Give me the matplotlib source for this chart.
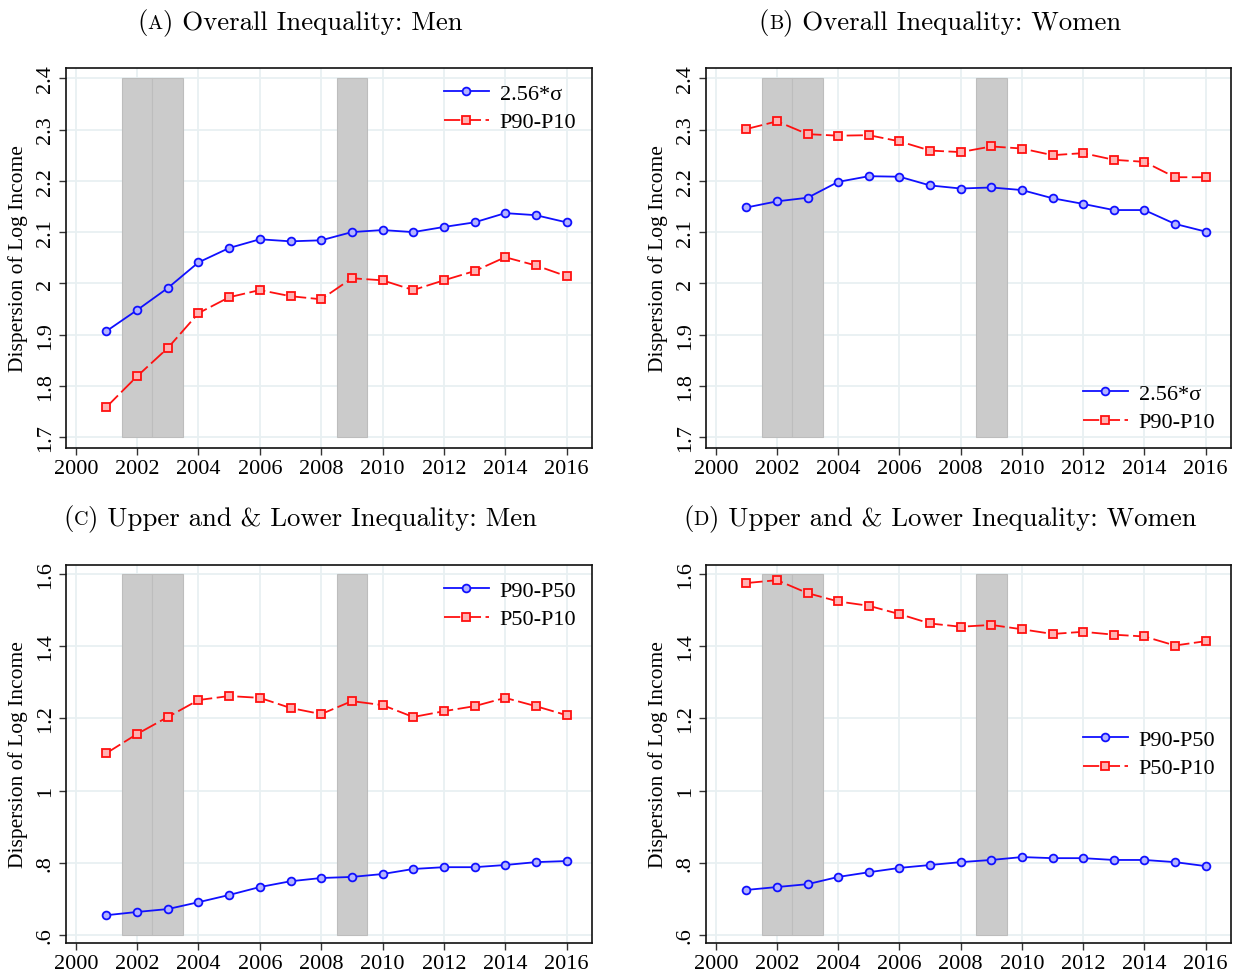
import matplotlib
matplotlib.use("Agg")
import matplotlib.pyplot as plt
import numpy as np

plt.rcParams['font.family'] = ['Liberation Serif', 'DejaVu Serif']

years = np.arange(2001, 2017)
recession_years = [2002, 2003, 2009]

# panel A: overall inequality, men
men_sd = [1.907, 1.948, 1.991, 2.041, 2.069, 2.086, 2.082, 2.084,
          2.100, 2.104, 2.100, 2.110, 2.119, 2.137, 2.133, 2.119]
men_9010 = [1.759, 1.819, 1.874, 1.942, 1.973, 1.987, 1.975, 1.969,
            2.010, 2.006, 1.987, 2.006, 2.024, 2.051, 2.035, 2.014]

# panel B: overall inequality, women
women_sd = [2.148, 2.160, 2.167, 2.198, 2.209, 2.208, 2.191, 2.185,
            2.187, 2.182, 2.166, 2.155, 2.143, 2.143, 2.116, 2.101]
women_9010 = [2.301, 2.316, 2.291, 2.288, 2.289, 2.277, 2.259, 2.256,
              2.267, 2.263, 2.250, 2.254, 2.241, 2.237, 2.207, 2.207]

# panel C: upper / lower, men
men_9050 = [0.655, 0.664, 0.672, 0.691, 0.711, 0.733, 0.749, 0.758,
            0.761, 0.769, 0.783, 0.788, 0.788, 0.794, 0.802, 0.805]
men_5010 = [1.104, 1.157, 1.204, 1.251, 1.262, 1.257, 1.229, 1.212,
            1.248, 1.237, 1.204, 1.220, 1.234, 1.257, 1.234, 1.209]

# panel D: upper / lower, women
women_9050 = [0.725, 0.733, 0.741, 0.761, 0.774, 0.786, 0.794, 0.802,
              0.808, 0.816, 0.813, 0.813, 0.808, 0.808, 0.802, 0.791]
women_5010 = [1.575, 1.583, 1.547, 1.524, 1.512, 1.489, 1.463, 1.454,
              1.459, 1.447, 1.434, 1.440, 1.432, 1.427, 1.402, 1.414]

xticks = np.arange(2000, 2017, 2)
yticks_overall = [1.7, 1.8, 1.9, 2.0, 2.1, 2.2, 2.3, 2.4]
ylabels_overall = ["1.7", "1.8", "1.9", "2", "2.1", "2.2", "2.3", "2.4"]
yticks_ul = [0.6, 0.8, 1.0, 1.2, 1.4, 1.6]
ylabels_ul = [".6", ".8", "1", "1.2", "1.4", "1.6"]

# (letter, rest of title) - letter is set in small caps
titles = [("A", "Overall Inequality: Men"), ("B", "Overall Inequality: Women"),
          ("C", "Upper and & Lower Inequality: Men"),
          ("D", "Upper and & Lower Inequality: Women")]

grid_col = "#e8f0f2"

fig = plt.figure(figsize=(12.39, 9.79), dpi=100)

W, H = 1239, 979
boxes = [(66, 69, 592, 449), (706, 69, 1231, 449),
         (66, 566, 592, 944), (706, 566, 1231, 944)]


def make_ax(box):
    x0, y0, x1, y1 = box
    return fig.add_axes([x0 / W, 1 - y1 / H, (x1 - x0) / W, (y1 - y0) / H])


def draw_panel(ax, blue, red, blue_lab, red_lab, yt, yl, ylim, loc):
    ax.set_xlim(1999.68, 2016.83)
    ax.set_ylim(*ylim)
    ax.set_xticks(xticks)
    ax.set_yticks(yt)
    ax.set_yticklabels(yl, rotation=90, va="center")
    ax.grid(True, color=grid_col, linewidth=1.3, zorder=0)
    ax.set_axisbelow(True)
    # recession shading
    ax.bar(recession_years, yt[-1] - yt[0], bottom=yt[0], width=1.0,
           color="#cbcbcb", edgecolor="#bdbdbd", linewidth=0.8, zorder=1)
    ax.plot(years, blue, color="#1010ff", linewidth=1.3, marker="o",
            markersize=5.6, markerfacecolor="#b3b3ff", markeredgecolor="#1010ff",
            markeredgewidth=1.3, label=blue_lab, zorder=3)
    ax.plot(years, red, color="#ff1010", linewidth=1.3, marker="s",
            markersize=5.6, markerfacecolor="#ffb3b3", markeredgecolor="#ff1010",
            markeredgewidth=1.3, dashes=(9, 2.5), label=red_lab, zorder=3)
    ax.tick_params(axis="both", labelsize=16, length=5, width=1.0,
                   color="#333333", pad=3)
    for sp in ax.spines.values():
        sp.set_linewidth(1.2)
        sp.set_color("#111111")
    ax.set_ylabel("Dispersion of Log Income", fontsize=15.5, labelpad=6)
    ax.legend(loc=loc, frameon=False, fontsize=16, handlelength=2.0,
              handletextpad=0.5, labelspacing=0.35, borderaxespad=0.3)


axA = make_ax(boxes[0])
draw_panel(axA, men_sd, men_9010, "2.56*σ", "P90-P10", yticks_overall,
           ylabels_overall, (1.679, 2.42), "upper right")
axB = make_ax(boxes[1])
draw_panel(axB, women_sd, women_9010, "2.56*σ", "P90-P10", yticks_overall,
           ylabels_overall, (1.679, 2.42), "lower right")
axC = make_ax(boxes[2])
draw_panel(axC, men_9050, men_5010, "P90-P50", "P50-P10", yticks_ul,
           ylabels_ul, (0.578, 1.625), "upper right")
axD = make_ax(boxes[3])
draw_panel(axD, women_9050, women_5010, "P90-P50", "P50-P10", yticks_ul,
           ylabels_ul, (0.578, 1.625), "center right")

# titles: "(" + small-caps letter + ") rest", pieces placed one after another
renderer = fig.canvas.get_renderer()
title_pos = [(300, 29), (940, 29), (300, 525), (940, 525)]
for (letter, rest), (xc, yb) in zip(titles, title_pos):
    pieces = [("(", 19.3), (letter, 14.5), (") " + rest, 19.3)]
    texts = []
    x = 0.0
    for s, size in pieces:
        t = fig.text(x / W, 1 - yb / H, s, ha="left", va="baseline",
                     fontsize=size, family=["cmr10", "DejaVu Serif"])
        bb = t.get_window_extent(renderer)
        x = bb.x1 + (4 if s.endswith(" ") else 0)
        texts.append(t)
    shift = xc - x / 2
    for t in texts:
        px, py = t.get_position()
        t.set_position(((px * W + shift) / W, py))

fig.savefig("out.png", dpi=100)
